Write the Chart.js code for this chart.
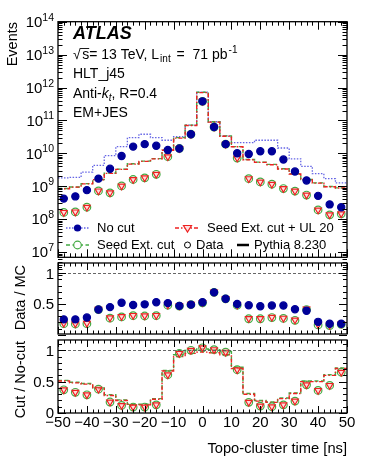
<!DOCTYPE html>
<html>
<head>
<meta charset="utf-8">
<script src="https://cdn.jsdelivr.net/npm/chart.js@4.4.0/dist/chart.umd.min.js"></script>
<style>
  body { margin: 0; background: #fff; }
  #wrap { position: relative; width: 366px; height: 474px; }
  #wrap canvas { position: absolute; left: 0; top: 0; }
</style>
</head>
<body>
<div id="wrap">
  <canvas id="pMain" width="366" height="474"></canvas>
  <canvas id="pData" width="366" height="474"></canvas>
  <canvas id="pCut" width="366" height="474"></canvas>
</div>
<script>
// bin centres in ns (bins are 4 ns wide)
var timeBins = [-48, -44, -40, -36, -32, -28, -24, -20, -16, -12, -8, -4, 0, 4, 8, 12, 16, 20, 24, 28, 32, 36, 40, 44, 48];
var binHalf = 2;

// top panel: events per bin
var mcNoCut = [1.8e9, 1.85e9, 2.7e9, 4.3e9, 8.5e9, 1.6e10, 3.0e10, 3.8e10, 3.0e10, 2.5e10, 3.2e10, 7.2e10, 7.2e11, 9.1e10, 3.4e10, 2.1e10, 2.1e10, 2.5e10, 2.5e10, 1.45e10, 6.8e9, 4.0e9, 2.4e9, 1.7e9, 1.26e9];
var mcSeed = [8.5e8, 9.5e8, 1.2e9, 1.6e9, 2.5e9, 3.3e9, 4.8e9, 5.8e9, 6.9e9, 1.26e10, 3.0e10, 7.2e10, 7.2e11, 9.1e10, 3.4e10, 1.6e10, 6.5e9, 5.4e9, 4.6e9, 3.4e9, 2.4e9, 1.6e9, 1.26e9, 9.8e8, 8.9e8];
var mcSeedUL = [8.4e8, 9.4e8, 1.18e9, 1.58e9, 2.45e9, 3.25e9, 4.7e9, 5.7e9, 6.8e9, 1.24e10, 2.9e10, 7.0e10, 7.0e11, 8.9e10, 3.3e10, 1.58e10, 6.4e9, 5.3e9, 4.5e9, 3.35e9, 2.35e9, 1.58e9, 1.24e9, 9.6e8, 8.8e8];
var dataNoCut = [4.2e8, 4.9e8, 7.6e8, 1.7e9, 3.4e9, 8.3e9, 1.6e10, 1.9e10, 1.7e10, 1.26e10, 1.4e10, 3.8e10, 3.8e11, 6.3e10, 1.9e10, 1.0e10, 9.5e9, 1.15e10, 1.15e10, 6.5e9, 2.8e9, 1.5e9, 5.1e8, 2.8e8, 2.3e8];
var dataSeed = [1.6e8, 1.66e8, 2.3e8, 7.2e8, 6.3e8, 1.02e9, 1.6e9, 1.8e9, 2.3e9, 7.9e9, 1.4e10, 3.8e10, 3.8e11, 6.3e10, 1.9e10, 7.2e9, 1.7e9, 1.35e9, 1.15e9, 8.5e8, 7.1e8, 5.4e8, 1.9e8, 1.35e8, 1.45e8];
var dataSeedUL = [1.6e8, 1.66e8, 2.3e8, 7.2e8, 6.3e8, 1.02e9, 1.6e9, 1.8e9, 2.3e9, 7.9e9, 1.4e10, 3.8e10, 3.8e11, 6.3e10, 1.9e10, 7.2e9, 1.7e9, 1.35e9, 1.15e9, 8.5e8, 7.1e8, 5.4e8, 1.9e8, 1.35e8, 1.45e8];

// middle panel: Data / MC
var ratioNoCut = [0.25, 0.25, 0.28, 0.41, 0.45, 0.52, 0.485, 0.495, 0.53, 0.515, 0.47, 0.49, 0.53, 0.69, 0.585, 0.50, 0.48, 0.465, 0.475, 0.475, 0.415, 0.39, 0.21, 0.18, 0.18];
var ratioSeed = [0.18, 0.175, 0.18, 0.41, 0.27, 0.29, 0.31, 0.305, 0.31, 0.48, 0.465, 0.49, 0.52, 0.69, 0.585, 0.48, 0.26, 0.26, 0.28, 0.265, 0.235, 0.41, 0.16, 0.15, 0.17];
var ratioSeedUL = [0.185, 0.18, 0.185, 0.415, 0.275, 0.295, 0.315, 0.31, 0.315, 0.485, 0.47, 0.495, 0.525, 0.695, 0.59, 0.485, 0.265, 0.265, 0.285, 0.27, 0.24, 0.42, 0.165, 0.155, 0.175];

// bottom panel: Cut / No-cut
var cutData = [0.37, 0.33, 0.29, 0.38, 0.175, 0.12, 0.095, 0.095, 0.13, 0.61, 0.95, 1.0, 1.04, 1.01, 0.97, 0.69, 0.17, 0.11, 0.10, 0.13, 0.19, 0.45, 0.36, 0.44, 0.65];
var cutDataUL = [0.37, 0.33, 0.29, 0.38, 0.175, 0.12, 0.095, 0.095, 0.13, 0.61, 0.95, 1.0, 1.04, 1.01, 0.97, 0.69, 0.17, 0.11, 0.10, 0.13, 0.19, 0.45, 0.36, 0.44, 0.65];
var cutMcSeed = [0.52, 0.49, 0.47, 0.40, 0.29, 0.21, 0.14, 0.14, 0.23, 0.68, 0.93, 1.0, 1.02, 1.01, 0.98, 0.73, 0.31, 0.20, 0.175, 0.24, 0.32, 0.51, 0.51, 0.61, 0.72];
var cutMcUL = [0.51, 0.48, 0.46, 0.39, 0.28, 0.20, 0.13, 0.13, 0.22, 0.67, 0.90, 0.95, 0.97, 0.96, 0.93, 0.71, 0.30, 0.19, 0.17, 0.23, 0.31, 0.50, 0.50, 0.60, 0.71];

// axis labels
var eventExponents = [7, 8, 9, 10, 11, 12, 13, 14];
var dataTickLabels = [0.5, 1];
var cutTickLabels = [0, 0.5, 1];
var timeTickLabels = [-50, -40, -30, -20, -10, 0, 10, 20, 30, 40, 50];

var FONT = '"Liberation Sans", Arial, Helvetica, sans-serif';
var BLUE = '#000099';
var BLUE_LINE = 'rgba(50, 50, 220, 0.75)';
var GREEN = '#44aa44';
var RED = '#ee2222';

function toPoints(vals) {
  return vals.map(function (v, i) { return { x: timeBins[i], y: v }; });
}

function toSteps(vals) {
  var pts = vals.map(function (v, i) { return { x: timeBins[i] - binHalf, y: v }; });
  pts.push({ x: timeBins[timeBins.length - 1] + binHalf, y: vals[vals.length - 1] });
  return pts;
}

function markers(vals, kind, order) {
  var ds = { data: toPoints(vals), showLine: false, order: order, pointBorderWidth: 1.2 };
  if (kind == 'blue') {
    ds.pointStyle = 'circle'; ds.pointRadius = 3.6;
    ds.pointBackgroundColor = BLUE; ds.pointBorderColor = BLUE;
  } else if (kind == 'green') {
    ds.pointStyle = 'circle'; ds.pointRadius = 3.8;
    ds.pointBackgroundColor = 'rgba(255,255,255,0)'; ds.pointBorderColor = GREEN;
  } else {
    ds.pointStyle = 'triangle'; ds.pointRotation = 180; ds.pointRadius = 3.8;
    ds.pointBackgroundColor = 'rgba(255,190,190,0.55)'; ds.pointBorderColor = RED;
  }
  return ds;
}

function steps(vals, kind, order) {
  var ds = { data: toSteps(vals), stepped: true, pointRadius: 0, fill: false, order: order, borderWidth: 1.4 };
  if (kind == 'blue') { ds.borderColor = BLUE_LINE; ds.borderDash = [1.5, 1.5]; ds.borderWidth = 1.3; }
  else if (kind == 'green') { ds.borderColor = GREEN; ds.borderDash = [4, 2.5]; }
  else { ds.borderColor = RED; ds.borderDash = [4, 2, 1.5, 2]; }
  return ds;
}

// text runs: [text, font, dy, extra advance]
function runs(ctx, x, y, parts) {
  parts.forEach(function (p) {
    ctx.font = p[1];
    ctx.fillText(p[0], x, y + (p[2] || 0));
    x += ctx.measureText(p[0]).width + (p[3] || 0);
  });
  return x;
}

function vTitle(ctx, text, x, yTop) {
  ctx.save();
  ctx.translate(x, yTop);
  ctx.rotate(-Math.PI / 2);
  ctx.font = '14.5px ' + FONT;
  ctx.textAlign = 'right';
  ctx.textBaseline = 'middle';
  ctx.fillText(text, 0, 0);
  ctx.restore();
}

function numLabels(ctx, ys, vals) {
  ctx.font = '15px ' + FONT;
  ctx.textAlign = 'right';
  ctx.textBaseline = 'alphabetic';
  vals.forEach(function (v) {
    ctx.fillText(String(v), 54, ys.getPixelForValue(v) + 5.3);
  });
  ctx.textAlign = 'left';
}

// ROOT-like frame with inward ticks, drawn from the chart's scales
var rootAxes = {
  id: 'rootAxes',
  afterDraw: function (chart, args, o) {
    var ctx = chart.ctx, a = chart.chartArea;
    var xs = chart.scales.x, ys = chart.scales.y;
    ctx.save();
    ctx.fillStyle = '#000';
    ctx.strokeStyle = '#000';

    if (o.refLine !== undefined) {
      var ry = Math.round(ys.getPixelForValue(o.refLine)) + 0.5;
      ctx.lineWidth = 0.9;
      ctx.strokeStyle = '#555';
      ctx.setLineDash([3, 2]);
      ctx.beginPath(); ctx.moveTo(a.left, ry); ctx.lineTo(a.right, ry); ctx.stroke();
      ctx.setLineDash([]);
      ctx.strokeStyle = '#000';
    }

    ctx.lineWidth = 1;
    ctx.beginPath();
    for (var t = -50; t <= 50; t += 2) {
      var px = Math.round(xs.getPixelForValue(t)) + 0.5;
      var len = (t % 10 === 0) ? o.xLen : o.xLen / 2;
      ctx.moveTo(px, a.bottom); ctx.lineTo(px, a.bottom - len);
      ctx.moveTo(px, a.top); ctx.lineTo(px, a.top + len);
    }
    o.yTicks.forEach(function (tk) {
      var py = Math.round(ys.getPixelForValue(tk[0])) + 0.5;
      var len = tk[1] ? o.yLen : o.yLen / 2;
      ctx.moveTo(a.left, py); ctx.lineTo(a.left + len, py);
      ctx.moveTo(a.right, py); ctx.lineTo(a.right - len, py);
    });
    ctx.stroke();

    ctx.lineWidth = 1.3;
    ctx.strokeRect(a.left, a.top, a.right - a.left, a.bottom - a.top);

    if (o.extra) o.extra(ctx, a, xs, ys);
    ctx.restore();
  }
};

function panel(id, pad, yOpts, datasets, axisOpts) {
  return new Chart(document.getElementById(id), {
    type: 'line',
    data: { datasets: datasets },
    options: {
      responsive: false,
      animation: false,
      events: [],
      layout: { padding: pad },
      plugins: { legend: { display: false }, tooltip: { enabled: false }, rootAxes: axisOpts },
      scales: {
        x: { type: 'linear', min: -50, max: 50, display: false },
        y: Object.assign({ display: false }, yOpts)
      }
    },
    plugins: [rootAxes]
  });
}

// tick lists
var mainTicks = [];
eventExponents.forEach(function (e) {
  mainTicks.push([Math.pow(10, e), true]);
  for (var m = 2; m <= 9; m++) mainTicks.push([m * Math.pow(10, e - 1), false]);
});
var ratioTicks = [];
for (var k = 0; k <= 11; k++) {
  ratioTicks.push([k / 10, k % 5 === 0]);
}

// ---- top panel ----
panel('pMain', { left: 58, right: 19, top: 21.7, bottom: 216.7 },
  { type: 'logarithmic', min: Math.pow(10, 6.84), max: 1e14 },
  [
    markers(dataNoCut, 'blue', 0),
    markers(dataSeedUL, 'red', 1),
    markers(dataSeed, 'green', 2),
    steps(mcSeedUL, 'red', 3),
    steps(mcSeed, 'green', 4),
    steps(mcNoCut, 'blue', 5)
  ],
  {
    xLen: 8, yLen: 9, yTicks: mainTicks,
    extra: function (ctx, a, xs, ys) {
      // y labels 10^n
      eventExponents.forEach(function (e) {
        var py = ys.getPixelForValue(Math.pow(10, e));
        ctx.font = '10.5px ' + FONT;
        var w2 = ctx.measureText(String(e)).width;
        ctx.font = '15px ' + FONT;
        var w1 = ctx.measureText('10').width;
        var x0 = 54 - w1 - w2;
        ctx.fillText('10', x0, py + 5.3);
        ctx.font = '10.5px ' + FONT;
        ctx.fillText(String(e), x0 + w1, py - 1);
      });
      vTitle(ctx, 'Events', 12.5, 22);

      // labels
      ctx.font = 'italic bold 18px ' + FONT;
      ctx.fillText('ATLAS', 73, 39);
      var f14 = '14px ' + FONT, f10 = '10px ' + FONT;
      ctx.font = f14;
      var rootW = ctx.measureText('\u221A').width + 1.5;
      var sW = ctx.measureText('s').width;
      runs(ctx, 73, 59, [['\u221A', f14, 0, 1.5], ['s', f14], ['= 13 TeV, L', f14, 0, 1], ['int', f10, 3, 2], [' =  71 pb', f14, 0, 1], ['-1', f10, -6]]);
      ctx.lineWidth = 0.9;
      ctx.beginPath(); ctx.moveTo(73 + rootW - 2, 48.5); ctx.lineTo(73 + rootW + sW, 48.5); ctx.stroke();
      runs(ctx, 73, 78, [['HLT_j45', f14]]);
      runs(ctx, 73, 98, [['Anti-', f14], ['k', 'italic ' + f14], ['t', 'italic ' + f10, 3], [', R=0.4', f14]]);
      runs(ctx, 73, 117, [['EM+JES', f14]]);

      // legend
      var f13 = '13px ' + FONT;
      ctx.font = f13;
      ctx.textBaseline = 'middle';
      var r1 = 228, r2 = 245;
      ctx.lineWidth = 1.3;
      ctx.strokeStyle = BLUE_LINE; ctx.setLineDash([1.5, 1.5]);
      ctx.beginPath(); ctx.moveTo(66, r1); ctx.lineTo(89, r1); ctx.stroke();
      ctx.strokeStyle = GREEN; ctx.setLineDash([4, 2.5]); ctx.lineWidth = 1.4;
      ctx.beginPath(); ctx.moveTo(66, r2); ctx.lineTo(89, r2); ctx.stroke();
      ctx.strokeStyle = RED; ctx.setLineDash([4, 2, 1.5, 2]);
      ctx.beginPath(); ctx.moveTo(175, r1); ctx.lineTo(199, r1); ctx.stroke();
      ctx.setLineDash([]);
      ctx.fillStyle = BLUE;
      ctx.beginPath(); ctx.arc(77.5, r1, 3.6, 0, Math.PI * 2); ctx.fill();
      ctx.fillStyle = '#fff'; ctx.strokeStyle = GREEN; ctx.lineWidth = 1.2;
      ctx.beginPath(); ctx.arc(77.5, r2, 3.8, 0, Math.PI * 2); ctx.fill(); ctx.stroke();
      ctx.fillStyle = 'rgb(255,225,225)'; ctx.strokeStyle = RED;
      ctx.beginPath(); ctx.moveTo(183.5, r1 - 2.5); ctx.lineTo(191.5, r1 - 2.5); ctx.lineTo(187.5, r1 + 4); ctx.closePath(); ctx.fill(); ctx.stroke();
      ctx.strokeStyle = '#000'; ctx.lineWidth = 1;
      ctx.beginPath(); ctx.arc(187.5, r2, 3, 0, Math.PI * 2); ctx.stroke();
      ctx.lineWidth = 2.5;
      ctx.beginPath(); ctx.moveTo(237, r2); ctx.lineTo(249, r2); ctx.stroke();
      ctx.fillStyle = '#000';
      ctx.fillText('No cut', 97, r1);
      ctx.fillText('Seed Ext. cut + UL 20', 207, r1);
      ctx.fillText('Seed Ext. cut', 97, r2);
      ctx.fillText('Data', 196, r2);
      ctx.fillText('Pythia 8.230', 254, r2);
    }
  });

// ---- middle panel ----
panel('pData', { left: 58, right: 19, top: 263, bottom: 140 },
  { type: 'linear', min: 0.012, max: 1.168 },
  [
    markers(ratioNoCut, 'blue', 0),
    markers(ratioSeedUL, 'red', 1),
    markers(ratioSeed, 'green', 2)
  ],
  {
    xLen: 7, yLen: 8, yTicks: ratioTicks, refLine: 1,
    extra: function (ctx, a, xs, ys) {
      numLabels(ctx, ys, dataTickLabels);
      vTitle(ctx, 'Data / MC', 21, 265);
    }
  });

// ---- bottom panel ----
panel('pCut', { left: 58, right: 19, top: 340, bottom: 61 },
  { type: 'linear', min: 0, max: 1.164 },
  [
    markers(cutDataUL, 'red', 1),
    markers(cutData, 'green', 2),
    steps(cutMcUL, 'red', 3),
    steps(cutMcSeed, 'green', 4)
  ],
  {
    xLen: 7, yLen: 8, yTicks: ratioTicks, refLine: 1,
    extra: function (ctx, a, xs, ys) {
      numLabels(ctx, ys, cutTickLabels);
      vTitle(ctx, 'Cut / No-cut', 21, 341);
      ctx.font = '15px ' + FONT;
      ctx.textAlign = 'center';
      timeTickLabels.forEach(function (t) {
        var s = t < 0 ? '\u2212' + Math.abs(t) : String(t);
        ctx.fillText(s, xs.getPixelForValue(t), 427);
      });
      ctx.textAlign = 'right';
      ctx.font = '14.7px ' + FONT;
      ctx.fillText('Topo-cluster time [ns]', 347, 453);
    }
  });
</script>
</body>
</html>
